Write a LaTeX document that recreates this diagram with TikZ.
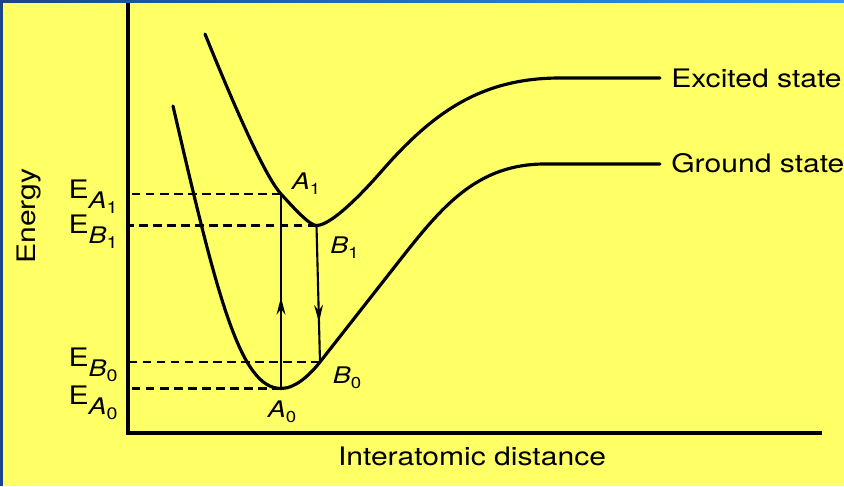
\documentclass[tikz,border=0pt]{standalone}
\usepackage{fontspec}
\setmainfont{TeX Gyre Heros}[FakeStretch=1.18]
\usepackage{tikz}
\usetikzlibrary{arrows.meta, decorations.markings}
\definecolor{bgyellow}{RGB}{255,255,102}
\definecolor{bardark}{RGB}{28,68,140}
\definecolor{barlight}{RGB}{52,152,240}
\newcommand{\Elev}[2]{{\fontsize{14.5}{16}\selectfont E\raisebox{-5.5pt}{\fontsize{13}{15}\selectfont\textit{#1}\raisebox{-3pt}{\fontsize{9.5}{10}\selectfont #2}}}}
\newcommand{\Ptlab}[2]{{\fontsize{13}{15}\selectfont\textit{#1}\raisebox{-3pt}{\fontsize{9}{10}\selectfont #2}}}

\begin{document}
\begin{tikzpicture}[
  curve/.style={line width=1.8pt, line join=round, line cap=round},
  axis/.style={line width=2.1pt},
  level/.style={dash pattern=on 5pt off 3pt, line width=1.4pt},
  uparrow/.style={line width=1.2pt, decoration={markings,
      mark=at position 0.47 with {\arrow{Stealth[length=10pt,width=5pt]}}},
      postaction={decorate}},
  downarrow/.style={line width=1.2pt, decoration={markings,
      mark=at position 0.71 with {\arrow{Stealth[length=10pt,width=5pt]}}},
      postaction={decorate}},
  lab/.style={inner sep=0pt},
  bigtext/.style={inner sep=0pt, font=\fontsize{14.5}{16}\selectfont}]

\fill[bgyellow] (0,0) rectangle (16.88,9.72);
\shade[left color=bardark, right color=barlight] (0,9.66) rectangle (16.88,9.72);
\fill[bardark] (0,0) rectangle (0.06,9.72);
\useasboundingbox (0,0) rectangle (16.88,9.72);

\coordinate (O) at (2.56,1.06);
\coordinate (ytop) at (2.56,9.66);
\coordinate (xend) at (16.44,1.06);
\coordinate (A1) at (5.62,5.84);
\coordinate (B1) at (6.33,5.21);
\coordinate (B0) at (6.40,2.48);
\coordinate (A0) at (5.62,1.95);

\draw[axis] (ytop) -- (O) -- (xend);

\draw[curve] (4.10,9.04) .. controls (4.85,7.19) and (5.35,6.14) .. (A1)
  .. controls (5.92,5.51) and (6.20,5.21) .. (B1)
  .. controls (6.66,5.21) and (7.39,6.02) .. (7.60,6.26)
  .. controls (8.64,7.46) and (9.61,8.16) .. (11.20,8.16) -- (13.20,8.16);
\draw[curve] (3.46,7.60) .. controls (4.34,3.80) and (4.80,1.95) .. (A0)
  .. controls (5.92,1.95) and (6.22,2.25) .. (B0)
  -- (8.00,4.52)
  .. controls (8.84,5.59) and (9.54,6.44) .. (10.90,6.44) -- (13.20,6.44);

\draw[level] (A1) -- (A1 -| O);
\draw[level] (B1) -- (B1 -| O);
\draw[level] (B0) -- (B0 -| O);
\draw[level] (A0) -- (A0 -| O);

\draw[uparrow] (A0) -- (A1);
\draw[downarrow] (B1) -- (B0);

\node[lab, anchor=east] at (2.36,5.78) (eA1) {\Elev{A}{1}};
\node[lab, anchor=east] at (2.36,5.08) (eB1) {\Elev{B}{1}};
\node[lab, anchor=east] at (2.36,2.42) (eB0) {\Elev{B}{0}};
\node[lab, anchor=east] at (2.36,1.66) (eA0) {\Elev{A}{0}};

\node[lab] at (6.12,6.05) (lA1) {\Ptlab{A}{1}};
\node[lab] at (6.89,4.77) (lB1) {\Ptlab{B}{1}};
\node[lab] at (6.94,2.16) (lB0) {\Ptlab{B}{0}};
\node[lab] at (5.64,1.48) (lA0) {\Ptlab{A}{0}};

\node[bigtext, anchor=west] at (13.42,8.16) (exc) {Excited state};
\node[bigtext, anchor=west] at (13.42,6.46) (gnd) {Ground state};
\node[bigtext, rotate=90] at (0.57,5.40) (energy) {Energy};
\node[bigtext] at (9.44,0.60) (dist) {Interatomic distance};
\end{tikzpicture}
\end{document}
